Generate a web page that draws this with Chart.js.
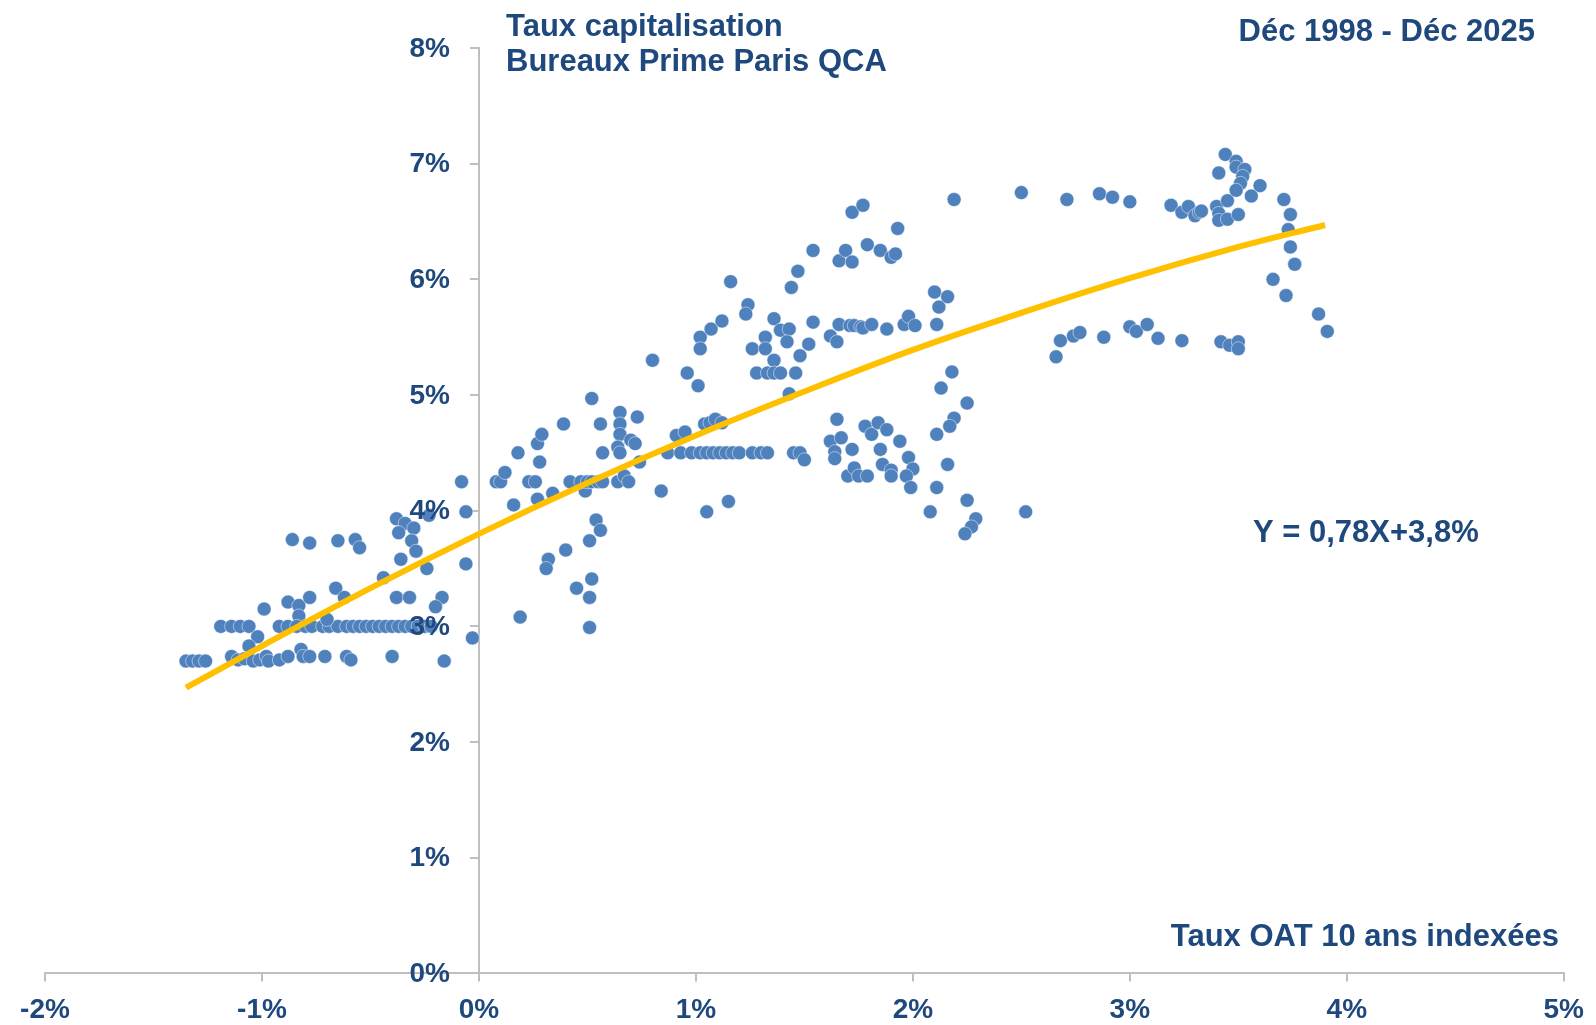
<!DOCTYPE html>
<html>
<head>
<meta charset="utf-8">
<script src="https://cdn.jsdelivr.net/npm/chart.js@4.4.1/dist/chart.umd.min.js"></script>
<style>
  html, body { margin: 0; padding: 0; background: #fff; }
</style>
</head>
<body>
<canvas id="chart" width="1596" height="1025"></canvas>
<script>
// Taux OAT 10 ans indexées (x, %) / Taux capitalisation bureaux prime (y, %)
const oatRates = [
  -1.35, -1.32, -1.29, -1.26,
  -1.19, -1.14, -1.10, -1.06,
  -0.99, -1.02, -1.06,
  -1.14, -1.11, -1.08, -1.04, -1.01, -0.98, -0.97,
  -0.88, -0.83, -0.78, -0.83, -0.66, -0.62,
  -0.92, -0.88, -0.84, -0.80, -0.77, -0.72, -0.69, -0.65, -0.61, -0.58,
  -0.70,
  -0.92, -0.88, -0.82, -0.81, -0.78, -0.71, -0.61, -0.59,
  -0.55, -0.52, -0.49, -0.46, -0.43, -0.40, -0.37, -0.34, -0.31, -0.28, -0.25, -0.22,
  -0.36, -0.24, -0.06, -0.44, -0.38, -0.32, -0.17, -0.20, -0.03, -0.16, -0.40,
  -0.65, -0.57, -0.55, -0.38, -0.34, -0.30, -0.37, -0.31, -0.29, -0.06, -0.23,
  -0.86, -0.78, -0.08,
  0.08, 0.10, 0.12, 0.18, 0.16, 0.27, 0.29, 0.28, 0.23, 0.26, 0.27, 0.34, 0.32, 0.31, 0.40, 0.39,
  0.42, 0.45, 0.49, 0.47, 0.50, 0.52, 0.55, 0.57, 0.52, 0.54, 0.56, 0.51, 0.52, 0.51, 0.51, 0.56,
  0.57, 0.65, 0.65, 0.65, 0.64, 0.65, 0.64, 0.67, 0.69, 0.73, 0.70, 0.72, 0.74, 0.84, 0.19,
  0.80, 0.96, 1.01, 1.02, 1.02, 1.07, 1.12, 1.16, 1.24, 1.23, 1.26, 1.32, 1.32, 1.36, 1.36, 1.39, 1.43, 1.42,
  1.28, 1.33, 1.36, 1.39, 1.46,
  1.44, 1.47, 1.54, 1.48, 1.52, 1.54, 1.43, 1.62, 1.65,
  1.66, 1.71, 1.73, 1.76, 1.77, 1.81, 1.88, 1.96, 1.98, 2.01, 2.11,
  1.66, 1.69, 1.72, 1.79, 1.85, 1.90, 1.92, 1.93, 1.72, 1.77, 2.19, 2.50,
  2.10, 2.16, 2.12, 2.18, 2.13, 2.25, 2.19, 2.17, 2.11,
  0.87, 0.93, 0.98, 1.02, 1.05, 1.08, 1.11, 1.14, 1.17, 1.20, 1.26, 1.30, 1.33,
  0.91, 0.95, 1.04, 1.065, 1.09, 1.12, 1.05, 1.15,
  1.45, 1.48, 1.50,
  1.65, 1.62, 1.67, 1.64, 1.64, 1.72, 1.70, 1.73, 1.75, 1.79,
  1.78, 1.81, 1.84, 1.88, 1.85, 1.86,
  1.94, 1.98, 2.00, 1.97, 1.99, 1.90, 1.90,
  2.16, 2.11, 2.25, 2.08, 2.29, 2.27, 2.24, 2.52,
  2.71, 2.86, 2.92, 3.00, 3.19, 3.24, 3.27, 3.30, 3.32, 3.33, 3.40, 3.41, 3.41, 3.45, 3.45, 3.50,
  3.41, 3.44, 3.49, 3.49, 3.53, 3.52, 3.51, 3.49, 3.56, 3.60,
  3.71, 3.74, 3.73, 3.74, 3.76, 3.66, 3.72, 3.87, 3.91,
  2.68, 2.66, 2.74, 2.77, 2.88, 3.00, 3.03, 3.08, 3.13, 3.24, 3.42, 3.46, 3.50, 3.50
];
const capRates = [
  2.70, 2.70, 2.70, 2.70,
  3.00, 3.00, 3.00, 3.00,
  3.15, 2.91, 2.83,
  2.74, 2.71, 2.72, 2.70, 2.71, 2.74, 2.70,
  3.21, 3.18, 3.25, 3.09, 3.33, 3.25,
  3.00, 3.00, 3.00, 3.00, 3.00, 3.00, 3.00, 3.00, 3.00, 3.00,
  3.06,
  2.71, 2.74, 2.80, 2.74, 2.74, 2.74, 2.74, 2.71,
  3.00, 3.00, 3.00, 3.00, 3.00, 3.00, 3.00, 3.00, 3.00, 3.00, 3.00, 3.00,
  3.58, 3.50, 3.54, 3.42, 3.25, 3.25, 3.25, 3.17, 2.90, 2.70, 2.74,
  3.74, 3.75, 3.68, 3.93, 3.89, 3.85, 3.81, 3.74, 3.65, 3.99, 3.96,
  3.75, 3.72, 4.25,
  4.25, 4.25, 4.33, 4.50, 4.05, 4.58, 4.66, 4.42, 4.25, 4.25, 4.10, 4.15, 3.58, 3.50, 3.66, 4.75,
  4.25, 3.33, 4.17, 4.25, 4.25, 4.25, 4.25, 4.25, 4.97, 3.92, 3.83, 3.74, 3.41, 3.25, 2.99, 4.75,
  4.50, 4.85, 4.75, 4.66, 4.55, 4.50, 4.25, 4.30, 4.25, 4.81, 4.61, 4.58, 4.42, 4.17, 3.08,
  5.30, 5.19, 5.08, 5.50, 5.40, 5.57, 5.64, 5.98, 5.78, 5.70, 5.40, 5.50, 5.40, 5.66, 5.30, 5.56, 5.57, 5.46,
  5.19, 5.19, 5.19, 5.19, 5.19,
  5.93, 6.07, 6.25, 5.34, 5.44, 5.63, 5.01, 5.51, 5.46,
  5.61, 5.60, 5.60, 5.59, 5.58, 5.61, 5.57, 5.61, 5.68, 5.60, 5.61,
  6.16, 6.25, 6.15, 6.30, 6.25, 6.19, 6.22, 6.44, 6.58, 6.64, 6.69, 6.75,
  5.89, 5.85, 5.76, 5.20, 5.06, 4.93, 4.80, 4.73, 4.66,
  4.50, 4.50, 4.50, 4.50, 4.50, 4.50, 4.50, 4.50, 4.50, 4.50, 4.50, 4.50, 4.50,
  4.65, 4.68, 4.75, 4.76, 4.79, 4.76, 3.99, 4.08,
  4.50, 4.50, 4.44,
  4.79, 4.60, 4.63, 4.51, 4.45, 4.53, 4.30, 4.37, 4.30, 4.30,
  4.73, 4.66, 4.76, 4.70, 4.53, 4.40,
  4.60, 4.46, 4.36, 4.30, 4.20, 4.35, 4.30,
  4.40, 4.20, 4.09, 3.99, 3.93, 3.86, 3.80, 3.99,
  6.69, 6.74, 6.71, 6.67, 6.64, 6.58, 6.63, 6.55, 6.58, 6.59, 6.63, 6.57, 6.51, 6.52, 6.68, 6.56,
  6.92, 7.08, 7.02, 6.97, 6.95, 6.89, 6.83, 6.77, 6.72, 6.81,
  6.69, 6.56, 6.43, 6.28, 6.13, 6.00, 5.86, 5.70, 5.55,
  5.47, 5.33, 5.51, 5.54, 5.50, 5.59, 5.55, 5.61, 5.49, 5.47, 5.46, 5.43, 5.46, 5.40
];
// courbe de tendance
const trendX = [-1.35, -1.0, -0.5, 0, 0.5, 1.0, 1.5, 2.0, 2.5, 3.0, 3.5, 3.9];
const trendY = [2.47, 2.83, 3.33, 3.80, 4.24, 4.65, 5.03, 5.39, 5.71, 6.01, 6.28, 6.47];
const xTicks = [-2, -1, 0, 1, 2, 3, 4, 5];
const yTicks = [0, 1, 2, 3, 4, 5, 6, 7, 8];

const navy = '#1F497D';
const axisGrey = '#BFBFBF';
const fontFamily = '"Liberation Sans", Arial, sans-serif';
const tickFont = { family: fontFamily, size: 28, weight: 'bold' };

const points = oatRates.map((x, i) => ({ x: x, y: capRates[i] }));
const trend = trendX.map((x, i) => ({ x: x, y: trendY[i] }));

// libellés de l'axe Y (placés à gauche de l'axe qui coupe en x = 0) + textes
const notes = {
  id: 'notes',
  afterDraw(chart) {
    const ctx = chart.ctx;
    const xs = chart.scales.x, ys = chart.scales.y;
    ctx.save();
    ctx.fillStyle = navy;
    ctx.font = 'bold 28px ' + fontFamily;
    ctx.textAlign = 'right';
    ctx.textBaseline = 'middle';
    const lx = xs.getPixelForValue(0) - 29;
    yTicks.forEach(v => ctx.fillText(v + '%', lx, ys.getPixelForValue(v) + 1));

    ctx.font = 'bold 31px ' + fontFamily;
    ctx.textAlign = 'left';
    ctx.textBaseline = 'alphabetic';
    ctx.fillText('Taux capitalisation', 506, 36);
    ctx.fillText('Bureaux Prime Paris QCA', 506, 71);
    ctx.textAlign = 'right';
    ctx.fillText('Déc 1998 - Déc 2025', 1535, 41);
    ctx.fillText('Taux OAT 10 ans indexées', 1559, 946);
    ctx.textAlign = 'left';
    ctx.fillText('Y = 0,78X+3,8%', 1253, 542);
    ctx.restore();
  }
};

new Chart(document.getElementById('chart'), {
  type: 'scatter',
  data: {
    datasets: [
      {
        type: 'line',
        label: 'Tendance',
        data: trend,
        borderColor: '#FFC000',
        borderWidth: 6,
        pointRadius: 0,
        tension: 0.4,
        fill: false,
        order: 0
      },
      {
        label: 'Taux',
        data: points,
        backgroundColor: '#4F81BD',
        borderColor: 'rgba(255,255,255,0.6)',
        borderWidth: 0.8,
        pointRadius: 7,
        order: 1
      }
    ]
  },
  options: {
    responsive: false,
    animation: false,
    devicePixelRatio: 1,
    layout: { padding: { left: 45, right: 12, top: 48, bottom: -14 } },
    plugins: { legend: { display: false }, tooltip: { enabled: false } },
    scales: {
      x: {
        type: 'linear',
        position: 'bottom',
        min: -2,
        max: 5,
        afterBuildTicks: axis => { axis.ticks = xTicks.map(v => ({ value: v })); },
        ticks: { color: navy, font: tickFont, padding: 12, callback: v => v + '%' },
        grid: { drawOnChartArea: false, drawTicks: true, tickLength: 8, color: axisGrey, lineWidth: 2 },
        border: { display: true, color: axisGrey, width: 2 }
      },
      y: {
        type: 'linear',
        position: { x: 0 },
        min: 0,
        max: 8,
        afterBuildTicks: axis => { axis.ticks = yTicks.map(v => ({ value: v })); },
        ticks: { display: false },
        grid: { drawOnChartArea: false, drawTicks: true, tickLength: 8, color: axisGrey, lineWidth: 2 },
        border: { display: true, color: axisGrey, width: 2 }
      }
    }
  },
  plugins: [notes]
});
</script>
</body>
</html>
